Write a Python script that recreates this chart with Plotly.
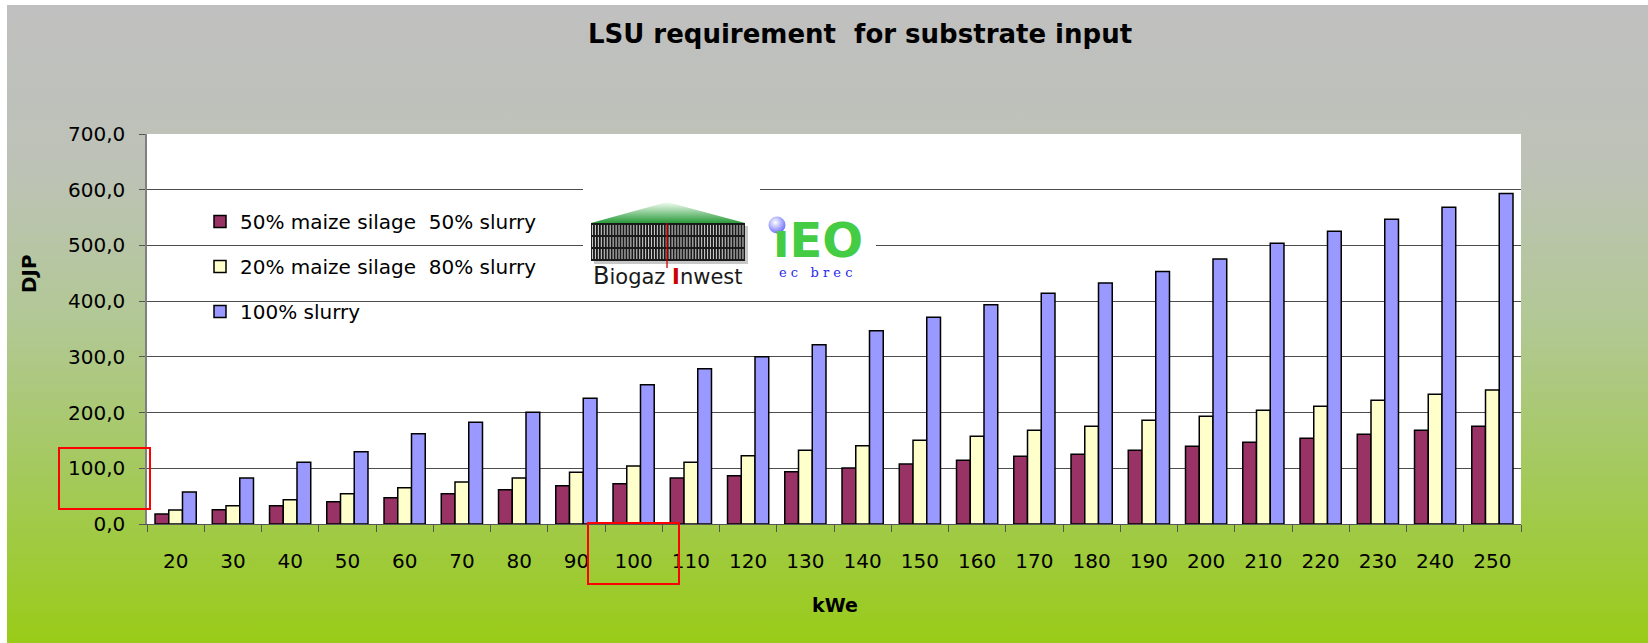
import base64
import plotly.graph_objects as go

# ---------------- data ----------------
kwe = ["20", "30", "40", "50", "60", "70", "80", "90", "100", "110", "120", "130",
       "140", "150", "160", "170", "180", "190", "200", "210", "220", "230", "240", "250"]
maize50_slurry50 = [17.9, 25.7, 32.8, 40.0, 47.2, 54.3, 61.5, 68.7, 72.2, 82.4, 86.6, 93.7,
                    100.3, 107.5, 114.6, 121.8, 125.4, 132.5, 139.7, 146.9, 154.0, 161.2, 168.4, 175.5]
maize20_slurry80 = [25.1, 32.8, 43.6, 54.3, 65.1, 75.2, 82.4, 93.1, 103.9, 111.0, 122.4, 132.5,
                    140.3, 150.4, 157.6, 168.4, 175.5, 186.3, 193.4, 204.2, 211.3, 222.0, 232.8, 240.6]
slurry100 = [57.3, 82.4, 111.0, 129.6, 161.8, 182.7, 200.6, 225.7, 250.1, 278.8, 300.3, 321.8,
             346.9, 371.3, 393.4, 414.3, 432.5, 453.0, 475.8, 503.9, 525.4, 546.9, 568.4, 593.4]
series_names = ["50% maize silage\u00a0 50% slurry", "20% maize silage\u00a0 80% slurry", "100% slurry"]
series_colors = ["#993366", "#FFFFCC", "#9999FF"]
y_ticks = [0, 100, 200, 300, 400, 500, 600, 700]

# ---------------- geometry (pixels) ----------------
W, H = 1648, 643
L, R, T, B = 147, 1521, 134, 524


def px(x):
    return (x - L) / (R - L)


def py(y):
    return (B - y) / (B - T)


def svg_uri(svg):
    return "data:image/svg+xml;base64," + base64.b64encode(svg.encode()).decode()


# background gradient
bg_svg = (
    "<svg xmlns='http://www.w3.org/2000/svg' width='100' height='100' viewBox='0 0 100 100' preserveAspectRatio='none'>"
    "<defs><linearGradient id='g' x1='0' y1='0' x2='0' y2='1'>"
    "<stop offset='0' stop-color='#c0c0c0'/>"
    "<stop offset='0.25' stop-color='#bdc2b7'/>"
    "<stop offset='0.5' stop-color='#b2c894'/>"
    "<stop offset='0.72' stop-color='#a5c960'/>"
    "<stop offset='1' stop-color='#99cc18'/>"
    "</linearGradient></defs><rect width='100' height='100' fill='url(#g)'/></svg>"
)

# Biogaz logo graphic (box 583..760 x 184..296)
stripes = []
for i in range(52):
    x = 9.5 + 2.95 * i
    for (ya, yb) in [(41, 51), (53, 63), (65, 75)]:
        stripes.append(f"<line x1='{x:.2f}' y1='{ya}' x2='{x:.2f}' y2='{yb}' stroke='#c8c8c8' stroke-width='1.1'/>")
biogaz_svg = (
    "<svg xmlns='http://www.w3.org/2000/svg' width='177' height='112' viewBox='0 0 177 112' preserveAspectRatio='none'>"
    "<defs><linearGradient id='r' x1='0' y1='0' x2='0' y2='1'>"
    "<stop offset='0' stop-color='#f4fff4'/><stop offset='1' stop-color='#2a9a3a'/></linearGradient></defs>"
    "<rect width='177' height='112' fill='white'/>"
    "<polygon points='8,39 84,18 162,39' fill='url(#r)'/>"
    "<rect x='11' y='42' width='154' height='38' fill='#999' opacity='0.55'/>"
    "<rect x='8' y='39' width='154' height='38' fill='#1a1a1a'/>"
    + "".join(stripes) +
    "<line x1='84' y1='39' x2='84' y2='84' stroke='#cc0000' stroke-width='1.3'/>"
    "</svg>"
)

# IEO logo graphic (box 752..876 x 203..290)
ieo_svg = (
    "<svg xmlns='http://www.w3.org/2000/svg' width='124' height='87' viewBox='0 0 124 87' preserveAspectRatio='none'>"
    "<defs><radialGradient id='b' cx='0.4' cy='0.35' r='0.7'>"
    "<stop offset='0' stop-color='#ffffff'/><stop offset='1' stop-color='#6666ff'/></radialGradient></defs>"
    "<rect width='124' height='87' fill='white'/>"
    "<circle cx='25' cy='22' r='8.5' fill='url(#b)'/>"
    "</svg>"
)

fig = go.Figure()
for name, vals, col in zip(series_names, [maize50_slurry50, maize20_slurry80, slurry100], series_colors):
    fig.add_trace(go.Bar(
        x=kwe, y=vals, name=name, legendgroup=name,
        marker=dict(color=col, line=dict(color="black", width=1.5)),
    ))

fig.update_layout(
    width=W, height=H,
    margin=dict(l=L, r=W - R, t=T, b=H - B, autoexpand=False),
    paper_bgcolor="white", plot_bgcolor="white",
    barmode="group", bargap=0.28, bargroupgap=0,
    separators=",.",
    font=dict(family="DejaVu Sans", size=20, color="black"),
    title=dict(text="<b>LSU requirement\u00a0 for substrate input</b>",
               x=860 / W, xanchor="center", y=1 - 34 / H, yanchor="middle",
               font=dict(family="DejaVu Sans", size=26, color="black")),
    showlegend=True,
    legend=dict(x=px(200), xanchor="left", y=py(202), yanchor="top",
                bgcolor="rgba(255,255,255,0)", tracegroupgap=16,
                traceorder="grouped", font=dict(size=20, family="DejaVu Sans")),
    xaxis=dict(type="category", showline=True, linecolor="#555", linewidth=1,
               ticks="outside", tickson="boundaries", ticklen=7, tickcolor="#555",
               ticklabelstandoff=19, showgrid=False, zeroline=False),
    yaxis=dict(range=[0, 700], tickvals=y_ticks, tickformat=".1f",
               showgrid=True, gridcolor="#4d4d4d", gridwidth=1,
               showline=True, linecolor="#808080", linewidth=1.5,
               ticks="outside", ticklen=6, tickcolor="#555", ticklabelstandoff=10,
               zeroline=False),
)

fig.add_layout_image(dict(source=svg_uri(bg_svg), xref="paper", yref="paper",
                          x=px(7), y=py(5), sizex=px(W) - px(7), sizey=py(5) - py(H),
                          xanchor="left", yanchor="top", sizing="stretch", layer="below"))
fig.add_layout_image(dict(source=svg_uri(biogaz_svg), xref="paper", yref="paper",
                          x=px(583), y=py(184), sizex=px(760) - px(583), sizey=py(184) - py(296),
                          xanchor="left", yanchor="top", sizing="stretch", layer="above"))
fig.add_layout_image(dict(source=svg_uri(ieo_svg), xref="paper", yref="paper",
                          x=px(752), y=py(203), sizex=px(876) - px(752), sizey=py(203) - py(290),
                          xanchor="left", yanchor="top", sizing="stretch", layer="above"))

# white plot area over the gradient, and white legend area hiding gridlines
fig.add_shape(type="rect", xref="paper", yref="paper", x0=0, x1=1, y0=0, y1=1,
              fillcolor="white", line=dict(width=0), layer="below")
fig.add_shape(type="rect", xref="paper", yref="paper", x0=px(L + 1), x1=px(679), y0=py(335), y1=py(195),
              fillcolor="white", line=dict(width=0), layer="between")

# red highlight boxes
fig.add_shape(type="rect", xref="paper", yref="paper", x0=px(59), x1=px(150), y0=py(509), y1=py(448),
              fillcolor="rgba(0,0,0,0)", line=dict(color="#ff0000", width=2), layer="above")
fig.add_shape(type="rect", xref="paper", yref="paper", x0=px(588), x1=px(679), y0=py(584), y1=py(523),
              fillcolor="rgba(0,0,0,0)", line=dict(color="#ff0000", width=2), layer="above")

# texts
ann = dict(xref="paper", yref="paper", showarrow=False, xanchor="center", yanchor="middle")
fig.add_annotation(text="<b>DJP</b>", textangle=-90, x=px(29), y=py(274), font=dict(size=20), **ann)
fig.add_annotation(text="<b>kWe</b>", x=px(835), y=py(605), font=dict(size=19), **ann)
fig.add_annotation(text="<span style='font-size:24px'>B</span>iogaz <span style='color:#cc0000'><b>I</b></span>nwest",
                   x=px(667), y=py(276), font=dict(size=21, family="DejaVu Sans", color="#1a1a1a"), **ann)
fig.add_annotation(text="<b>\u0131EO</b>", x=px(818), y=py(240),
                   font=dict(size=48, family="DejaVu Sans", color="#44cc44"), **ann)
fig.add_annotation(text="e c\u00a0\u00a0 b r e c", x=px(815), y=py(272),
                   font=dict(size=13, family="DejaVu Serif", color="#2a2aee"), **ann)

fig.write_html("out.html", config={"displayModeBar": False},
               post_script="document.body.style.margin='0';document.body.style.overflow='hidden';")
